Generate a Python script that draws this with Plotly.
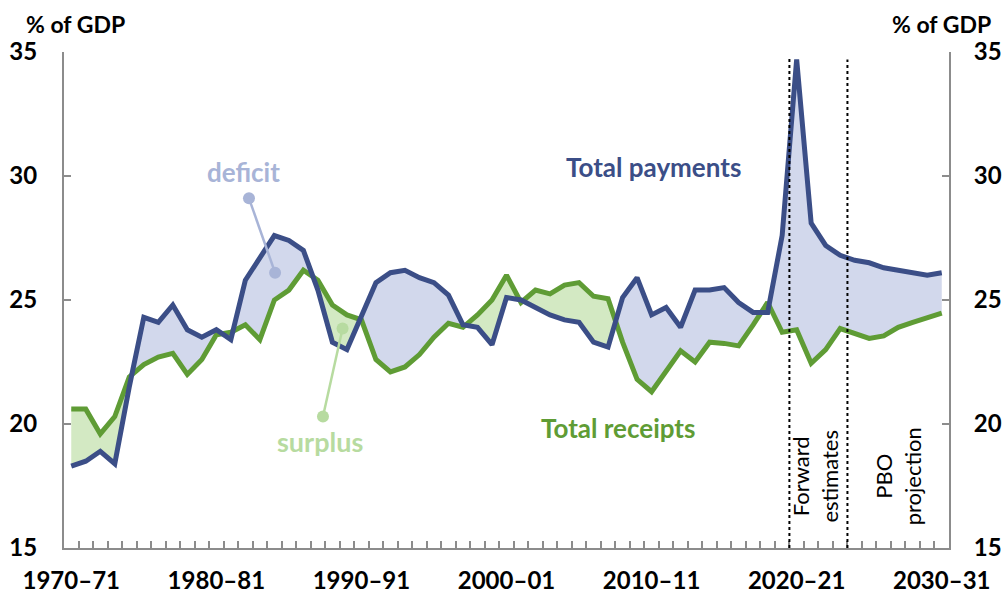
import numpy as np
import plotly.graph_objects as go

# ---------------- data ----------------
years = [f"{y}–{str(y + 1)[-2:]}" for y in range(1970, 2031)]
tick_positions = [0, 10, 20, 30, 40, 50, 60]
tick_labels = ["1970–71", "1980–81", "1990–91", "2000–01", "2010–11", "2020–21", "2030–31"]

payments = [18.3, 18.5, 18.9, 18.4, 21.5, 24.3, 24.1, 24.8, 23.8, 23.5,
            23.8, 23.4, 25.8, 26.7, 27.6, 27.4, 27.0, 25.4, 23.3, 23.0,
            24.4, 25.7, 26.1, 26.2, 25.9, 25.7, 25.2, 24.0, 23.9, 23.2,
            25.1, 25.0, 24.7, 24.4, 24.2, 24.1, 23.3, 23.1, 25.1, 25.9,
            24.4, 24.7, 23.9, 25.4, 25.4, 25.5, 24.9, 24.5, 24.5, 27.6,
            34.7, 28.1, 27.2, 26.8, 26.6, 26.5, 26.3, 26.2, 26.1, 26.0, 26.1]

receipts = [20.6, 20.6, 19.6, 20.3, 21.9, 22.4, 22.7, 22.85, 22.0, 22.6,
            23.6, 23.7, 24.0, 23.4, 25.0, 25.4, 26.2, 25.8, 24.8, 24.4,
            24.2, 22.6, 22.1, 22.3, 22.8, 23.5, 24.06, 23.9, 24.4, 25.0,
            26.0, 24.9, 25.4, 25.25, 25.6, 25.7, 25.15, 25.05, 23.3, 21.8,
            21.3, 22.15, 22.95, 22.5, 23.3, 23.25, 23.15, 24.0, 24.9, 23.7,
            23.8, 22.45, 23.0, 23.85, 23.65, 23.45, 23.55, 23.9, 24.1, 24.3, 24.47]

# period boundaries (between categories)
forward_start = 49.5
projection_start = 53.5

# ---------------- styles ----------------
BLUE = "#3B4E87"
GREEN = "#5F9C35"
DEFICIT_FILL = "#D2D8EC"
SURPLUS_FILL = "#D3E9C3"
DEFICIT_LABEL = "#A8B4D7"
SURPLUS_LABEL = "#B7DBA0"
AXIS_GREY = "#8C8C8C"
FONT = "Lato"

# ---------------- build fill polygons with crossings ----------------
n = len(payments)
x = np.arange(n, dtype=float)
P = np.array(payments)
R = np.array(receipts)
xs, ps, rs = [x[0]], [P[0]], [R[0]]
for i in range(n - 1):
    d0 = P[i] - R[i]
    d1 = P[i + 1] - R[i + 1]
    if d0 * d1 < 0:
        t = d0 / (d0 - d1)
        yc = P[i] + t * (P[i + 1] - P[i])
        xs.append(x[i] + t)
        ps.append(yc)
        rs.append(yc)
    xs.append(x[i + 1])
    ps.append(P[i + 1])
    rs.append(R[i + 1])
xs = np.array(xs)
ps = np.array(ps)
rs = np.array(rs)
upper = np.maximum(ps, rs)

fig = go.Figure()
nofill = dict(mode="lines", line=dict(width=0), hoverinfo="skip", showlegend=False)
# deficit area
fig.add_trace(go.Scatter(x=xs, y=rs, **nofill))
fig.add_trace(go.Scatter(x=xs, y=upper, fill="tonexty", fillcolor=DEFICIT_FILL, **nofill))
# surplus area
fig.add_trace(go.Scatter(x=xs, y=ps, **nofill))
fig.add_trace(go.Scatter(x=xs, y=upper, fill="tonexty", fillcolor=SURPLUS_FILL, **nofill))

# lines
fig.add_trace(go.Scatter(x=x, y=receipts, mode="lines", name="Total receipts",
                         line=dict(color=GREEN, width=5), showlegend=False,
                         customdata=years, hovertemplate="%{customdata}: %{y}<extra></extra>"))
fig.add_trace(go.Scatter(x=x, y=payments, mode="lines", name="Total payments",
                         line=dict(color=BLUE, width=5), showlegend=False,
                         customdata=years, hovertemplate="%{customdata}: %{y}<extra></extra>"))
# invisible trace for right axis and label axis
fig.add_trace(go.Scatter(x=x, y=payments, xaxis="x2", yaxis="y2", mode="lines",
                         line=dict(width=0), opacity=0, hoverinfo="skip", showlegend=False))

tickfont = dict(family=FONT, size=24, color="black", weight="bold")
boundaries = list(np.arange(n + 1) - 0.5)

fig.update_layout(
    width=1005, height=597,
    margin=dict(l=64, r=56, t=52, b=49, autoexpand=False),
    plot_bgcolor="white", paper_bgcolor="white",
    font=dict(family=FONT),
    # main x axis: line + category boundary ticks
    xaxis=dict(range=[-0.5, n - 0.5], showgrid=False, zeroline=False,
               automargin=False, showline=True, linecolor=AXIS_GREY, linewidth=2,
               tickmode="array", tickvals=boundaries, ticktext=[""] * len(boundaries),
               ticks="inside", ticklen=7, tickwidth=2, tickcolor=AXIS_GREY),
    # overlay x axis: year labels
    xaxis2=dict(range=[-0.5, n - 0.5], overlaying="x", side="bottom", anchor="y",
                showgrid=False, zeroline=False, automargin=False, showline=False,
                tickmode="array", tickvals=tick_positions, ticktext=tick_labels,
                ticks="", tickfont=tickfont, ticklabelstandoff=16),
    yaxis=dict(range=[15, 35], tickvals=[15, 20, 25, 30, 35], showgrid=False,
               automargin=False,
               zeroline=False, showline=True, linecolor=AXIS_GREY, linewidth=2,
               ticks="inside", ticklen=7, tickwidth=2, tickcolor=AXIS_GREY,
               tickfont=tickfont, ticklabelstandoff=20),
    yaxis2=dict(range=[15, 35], tickvals=[15, 20, 25, 30, 35], overlaying="y",
                automargin=False, anchor="x",
                side="right", showgrid=False, zeroline=False, showline=True,
                linecolor=AXIS_GREY, linewidth=2, ticks="inside", ticklen=7,
                tickwidth=2, tickcolor=AXIS_GREY, tickfont=tickfont,
                ticklabelstandoff=18),
)

# dotted period lines
for xv, top in [(forward_start, 34.8), (projection_start, 34.7)]:
    fig.add_shape(type="line", xref="x", yref="y", x0=xv, x1=xv, y0=15, y1=top,
                  line=dict(color="black", width=2, dash="dot"))

# leader lines with dots
def leader(x0, y0, x1, y1, color):
    fig.add_shape(type="line", xref="x", yref="y", x0=x0, y0=y0, x1=x1, y1=y1,
                  line=dict(color=color, width=2.5))
    for cx, cy in [(x0, y0), (x1, y1)]:
        fig.add_shape(type="circle", xref="x", yref="y", xsizemode="pixel", ysizemode="pixel",
                      xanchor=cx, yanchor=cy, x0=-6, x1=6, y0=-6, y1=6,
                      line=dict(width=0), fillcolor=color)

leader(12.25, 29.1, 14.05, 26.1, DEFICIT_LABEL)
leader(17.35, 20.3, 18.7, 23.85, SURPLUS_LABEL)

def label(text, xv, yv, color, size=22, bold=True, angle=0):
    fig.add_annotation(x=xv, y=yv, xref="x", yref="y", text=text, showarrow=False,
                       textangle=angle, align="center",
                       font=dict(family=FONT, size=size, color=color,
                                 weight="bold" if bold else "normal"))

label("deficit", 11.85, 30.15, DEFICIT_LABEL, size=26)
label("surplus", 17.15, 19.3, SURPLUS_LABEL, size=27)
label("Total payments", 40.1, 30.35, BLUE, size=26)
label("Total receipts", 37.7, 19.85, GREEN, size=26)
label("Forward<br>estimates", 51.3, 17.9, "black", size=22, bold=False, angle=-90)
label("PBO<br>projection", 57.0, 17.9, "black", size=22, bold=False, angle=-90)

# axis titles
for xp, anchor in [(-0.045, "left"), (1.05, "right")]:
    fig.add_annotation(x=xp, y=1.056, xref="paper", yref="paper", text="% of GDP",
                       showarrow=False, xanchor=anchor, yanchor="middle",
                       font=dict(family=FONT, size=23, color="black", weight="bold"))

fig.write_html("out.html", config={"displayModeBar": False},
               post_script="document.body.style.margin='0';")
